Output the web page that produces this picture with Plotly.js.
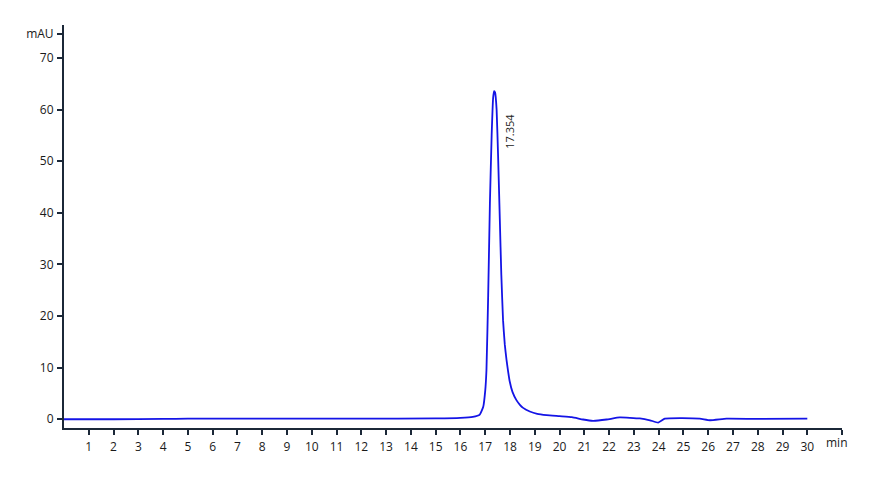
<!DOCTYPE html>
<html>
<head>
<meta charset="utf-8">
<script src="https://cdn.plot.ly/plotly-3.0.1.min.js"></script>
<style>html,body{margin:0;padding:0;background:#fff;}#chart{width:875px;height:481px;}</style>
</head>
<body>
<div id="chart"></div>
<script>
const timeMin = [0, 2, 4, 5, 8, 12, 15, 16, 16.5, 16.78, 16.92, 17.0, 17.05, 17.12, 17.19, 17.26, 17.32, 17.36, 17.40, 17.46, 17.52, 17.59, 17.65, 17.72, 17.79, 17.86, 17.93, 17.99, 18.1, 18.26, 18.4, 18.53, 18.8, 19.1, 19.48, 20.0, 20.5, 20.95, 21.35, 21.9, 22.43, 23.24, 23.65, 23.98, 24.25, 24.86, 25.66, 26.07, 26.74, 27.95, 30.0];
const signalMAU = [0.0, 0.0, 0.05, 0.1, 0.1, 0.1, 0.15, 0.25, 0.45, 0.9, 2.4, 5.5, 9.5, 24, 42, 55, 62.3, 63.6, 63.3, 60, 51, 38.6, 28, 19.2, 14.5, 11.5, 9.1, 7.3, 5.3, 3.7, 2.8, 2.2, 1.5, 1.05, 0.8, 0.6, 0.4, -0.05, -0.3, -0.05, 0.35, 0.15, -0.2, -0.65, 0.1, 0.2, 0.1, -0.2, 0.1, 0.05, 0.1];
const xTickVals = [1,2,3,4,5,6,7,8,9,10,11,12,13,14,15,16,17,18,19,20,21,22,23,24,25,26,27,28,29,30,31.4];
const xTickText = ['1','2','3','4','5','6','7','8','9','10','11','12','13','14','15','16','17','18','19','20','21','22','23','24','25','26','27','28','29','30',''];
const yTickVals = [0,10,20,30,40,50,60,70,74.6];
const yTickText = ['0','10','20','30','40','50','60','70','mAU'];
const peakLabel = '17.354';
const xUnit = 'min';

const axisColor = '#1b2838';
const fontFam = '"Open Sans", "Noto Sans", sans-serif';

Plotly.newPlot('chart', [{
  x: timeMin, y: signalMAU, type: 'scatter', mode: 'lines',
  line: {color: '#1414e6', width: 1.8, shape: 'spline', smoothing: 0.4},
  hoverinfo: 'skip'
}], {
  width: 875, height: 481,
  margin: {l: 64, r: 33, t: 25, b: 53},
  paper_bgcolor: '#ffffff', plot_bgcolor: '#ffffff',
  showlegend: false,
  font: {family: fontFam, size: 12, color: '#222222'},
  xaxis: {
    range: [0, 31.4], showgrid: false, zeroline: false,
    showline: true, linecolor: axisColor, linewidth: 2,
    ticks: 'outside', ticklen: 5, tickwidth: 2, tickcolor: axisColor,
    tickvals: xTickVals, ticktext: xTickText, ticklabelstandoff: 2,
    tickfont: {family: fontFam, size: 12, color: '#1a1a1a'}
  },
  yaxis: {
    range: [-1.7, 76.4], showgrid: false, zeroline: false,
    showline: true, linecolor: axisColor, linewidth: 2,
    ticks: 'outside', ticklen: 5, tickwidth: 2, tickcolor: axisColor,
    tickvals: yTickVals, ticktext: yTickText, ticklabelstandoff: 1,
    tickfont: {family: fontFam, size: 12, color: '#1a1a1a'}
  },
  annotations: [
    {x: 18.0, y: 55.9, xref: 'x', yref: 'y', text: peakLabel, showarrow: false,
     textangle: -90, xanchor: 'center', yanchor: 'middle',
     font: {family: fontFam, size: 11, color: '#222222'}},
    {x: 0.9936, y: -0.037, xref: 'paper', yref: 'paper', text: xUnit, showarrow: false,
     xanchor: 'center', yanchor: 'middle',
     font: {family: fontFam, size: 12, color: '#1a1a1a'}}
  ]
}, {staticPlot: true, displayModeBar: false});
</script>
</body>
</html>
